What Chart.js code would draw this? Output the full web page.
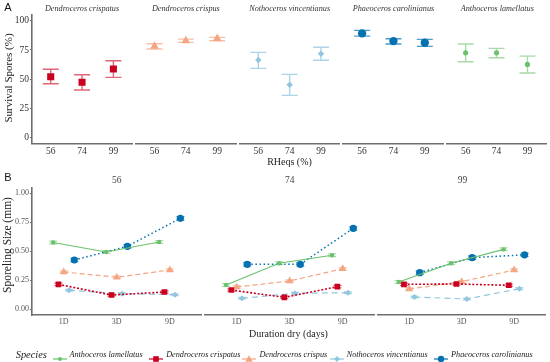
<!DOCTYPE html>
<html>
<head>
<meta charset="utf-8">
<script src="https://cdn.jsdelivr.net/npm/chart.js@4.4.1/dist/chart.umd.min.js"></script>
<style>
body { margin: 0; background: #fff; }
#wrap { position: relative; width: 550px; height: 362px; overflow: hidden; font-family: "Liberation Serif", "DejaVu Serif", serif; }
#wrap canvas { position: absolute; left: 0; top: 0; }
.lbl { position: absolute; white-space: nowrap; line-height: 1; }
</style>
</head>
<body>
<div id="wrap"></div>
<script>
//species, in legend order
const speciesNames = ['Anthoceros lamellatus', 'Dendroceros crispatus', 'Dendroceros crispus', 'Nothoceros vincentianus', 'Phaeoceros carolinianus'];

//panel A: survival of spores (%) per RHeq
const rhLevels = ['56', '74', '99'];
const facetOrderA = [1, 2, 3, 4, 0]; //which species goes in which facet
const survMean = [[72.6, 72.6, 62.7], [52.1, 47.4, 58.7], [78.2, 83.0, 84.8], [66.4, 45.3, 71.8], [89.2, 82.6, 81.2]];
const survLow  = [[65.0, 68.4, 55.3], [46.2, 40.8, 51.6], [75.8, 81.5, 82.9], [59.3, 36.2, 66.2], [86.9, 80.1, 78.1]];
const survHigh = [[80.1, 76.4, 69.8], [58.5, 53.8, 65.8], [80.3, 84.3, 85.8], [73.0, 54.2, 77.3], [91.8, 84.6, 84.1]];
const survTicks = [0, 25, 50, 75, 100];

//panel B: sporeling size (mm), one row per RHeq facet, columns = duration dry
const sizeFacets = ['56', '74', '99'];
const durations = ['1D', '3D', '9D'];
const sizeAnth      = [[0.576, 0.494, 0.580], [0.209, 0.397, 0.466], [0.235, 0.397, 0.517]];
const sizeCrispatus = [[0.215, 0.123, 0.149], [0.166, 0.103, 0.195], [0.215, 0.218, 0.207]];
const sizeCrispus   = [[0.322, 0.276, 0.339], [0.192, 0.244, 0.350], [0.175, 0.238, 0.339]];
const sizeNotho     = [[0.164, 0.135, 0.126], [0.095, 0.138, 0.143], [0.106, 0.089, 0.178]];
const sizePhaeo     = [[0.425, 0.543, 0.784], [0.388, 0.388, 0.698], [0.316, 0.445, 0.470]];
const sizeErr = [0.012, 0.010, 0.010, 0.008, 0.015]; //per species
const sizeTicks = [0, 0.25, 0.5, 0.75, 1];
const sizeTickLabels = ['0.00', '0.25', '0.50', '0.75', '1.00'];

//looks
const colors = ['#6cc26c', '#ca0020', '#f4a582', '#92c5de', '#0571b0'];
const errColors = ['rgba(108,194,108,0.6)', 'rgba(202,0,32,0.6)', 'rgba(244,165,130,0.7)', 'rgba(146,197,222,0.75)', 'rgba(5,113,176,0.7)'];
const shapes = ['circle', 'rect', 'triangle', 'rectRot', 'circle'];
const radiusA = [2.6, 5, 5, 3.2, 4.2];
const radiusB = [2.2, 4, 4.4, 3, 3.6];
const dashes = [[], [2, 1.8], [5, 3], [6, 4], [1.5, 2.6]];
const lineW = [1.2, 1.6, 1.2, 1.2, 1.5];
const dodge = [-0.2, -0.1, 0, 0.1, 0.2];
const AXIS = '#6e6e6e';

const W = 550, H = 362;
const wrap = document.getElementById('wrap');

var addCanvas = function() {
	const c = document.createElement('canvas');
	c.width = W; c.height = H;
	c.style.width = W + 'px'; c.style.height = H + 'px';
	wrap.appendChild(c);
	return c;
}

var addLabel = function(text, x, y, css, rotate) {
	const d = document.createElement('div');
	d.className = 'lbl';
	d.textContent = text;
	d.style.left = x + 'px';
	d.style.top = y + 'px';
	d.style.transform = 'translate(-50%,-50%)' + (rotate ? ' rotate(-90deg)' : '');
	Object.assign(d.style, css || {});
	wrap.appendChild(d);
	return d;
}

//draws error bars from ds.lo / ds.hi through the chart scales
const errBars = {
	id: 'errBars',
	beforeDatasetsDraw(chart) {
		const ctx = chart.ctx, x = chart.scales.x, y = chart.scales.y;
		chart.data.datasets.forEach(ds => {
			if (!ds.lo) return;
			ctx.save();
			ctx.strokeStyle = ds.errColor;
			ctx.lineWidth = ds.errWidth;
			ds.data.forEach((p, i) => {
				const px = x.getPixelForValue(p.x);
				const y1 = y.getPixelForValue(ds.lo[i]);
				const y2 = y.getPixelForValue(ds.hi[i]);
				const hw = ds.capHalf;
				ctx.beginPath();
				ctx.moveTo(px, y1); ctx.lineTo(px, y2);
				ctx.moveTo(px - hw, y1); ctx.lineTo(px + hw, y1);
				ctx.moveTo(px - hw, y2); ctx.lineTo(px + hw, y2);
				ctx.stroke();
			});
			ctx.restore();
		});
	}
};

//builds one facet: plot area box given in page pixels
var makeFacet = function(box, datasets, xLabels, yTicks, yLabels, showY, fontX, fontY, colX, padX) {
	new Chart(addCanvas(), {
		type: 'line',
		data: { datasets: datasets },
		options: {
			responsive: false,
			animation: false,
			events: [],
			layout: { padding: { left: box.left - 20, right: W - box.right, top: box.top, bottom: H - box.bottom - 16 } },
			plugins: { legend: { display: false }, tooltip: { enabled: false } },
			scales: {
				x: {
					type: 'linear', min: -0.6, max: 2.6,
					afterBuildTicks: sc => { sc.ticks = [0, 1, 2].map(v => ({ value: v })); },
					afterFit: sc => { sc.height = 16; },
					ticks: { callback: v => xLabels[v], font: fontX, color: colX, padding: padX, maxRotation: 0 },
					grid: { display: false, drawTicks: false },
					border: { display: true, color: AXIS, width: 1.6 }
				},
				y: {
					display: true, min: box.yMin, max: box.yMax,
					afterBuildTicks: sc => { sc.ticks = yTicks.map(v => ({ value: v })); },
					afterFit: sc => { sc.width = 20; },
					ticks: { display: showY, callback: (v, i) => yLabels[i], font: fontY, color: colX, padding: 1 },
					grid: { display: showY, color: 'transparent', tickColor: AXIS, tickLength: 2, drawTicks: showY },
					border: { display: showY, color: AXIS, width: 1.6 }
				}
			}
		},
		plugins: [errBars]
	});
}

//----- panel A -----
const boxA = { left: 31.9, w: 100.3, step: 103.8, top: 14.9, bottom: 143.6 };
facetOrderA.forEach((s, k) => {
	const left = boxA.left + k * boxA.step;
	const ds = [{
		data: survMean[s].map((v, i) => ({ x: i, y: v })),
		lo: survLow[s], hi: survHigh[s],
		errColor: errColors[s], errWidth: 1.4, capHalf: 8,
		showLine: false,
		pointStyle: shapes[s], pointRadius: radiusA[s],
		pointBackgroundColor: colors[s], pointBorderWidth: 0, borderColor: colors[s]
	}];
	makeFacet({ left: left, right: left + boxA.w, top: boxA.top, bottom: boxA.bottom, yMin: -5, yMax: 105 },
		ds, rhLevels, survTicks, survTicks.map(String), k === 0,
		{ family: 'Liberation Serif', size: 9.5 }, { family: 'Liberation Serif', size: 9.5 }, '#333', 2);
	addLabel(speciesNames[s], left + boxA.w / 2, 9, { fontSize: '8.2px', fontStyle: 'italic', color: '#333' });
});

//----- panel B -----
const sizeBySpecies = [sizeAnth, sizeCrispatus, sizeCrispus, sizeNotho, sizePhaeo];
const boxB = { left: 31.9, w: 169.7, step: 172.9, top: 187.5, bottom: 315.1 };
sizeFacets.forEach((f, k) => {
	const left = boxB.left + k * boxB.step;
	const ds = speciesNames.map((n, s) => {
		const vals = sizeBySpecies[s][k];
		return {
			data: vals.map((v, i) => ({ x: i + dodge[s], y: v })),
			lo: vals.map(v => v - sizeErr[s]), hi: vals.map(v => v + sizeErr[s]),
			errColor: errColors[s], errWidth: 1.2, capHalf: 4,
			borderColor: colors[s], borderWidth: lineW[s], borderDash: dashes[s], tension: 0,
			pointStyle: shapes[s], pointRadius: radiusB[s],
			pointBackgroundColor: colors[s], pointBorderWidth: 0
		};
	});
	makeFacet({ left: left, right: left + boxB.w, top: boxB.top, bottom: boxB.bottom, yMin: -0.05, yMax: 1.05 },
		ds, durations, sizeTicks, sizeTickLabels, k === 0,
		{ family: 'Liberation Serif', size: 8 }, { family: 'Liberation Serif', size: 8 }, '#555', 2.5);
	addLabel(f, left + boxB.w / 2, 181, { fontSize: '9.5px', color: '#444' });
});

//titles
addLabel('A', 8, 7, { fontFamily: 'Liberation Sans', fontSize: '11px', color: '#111' });
addLabel('B', 8, 177, { fontFamily: 'Liberation Sans', fontSize: '11px', color: '#111' });
addLabel('Survival Spores (%)', 8, 78, { fontSize: '11px', color: '#222' }, true);
addLabel('RHeqs (%)', 289.5, 162, { fontSize: '10px', color: '#222' });
addLabel('Sporeling Size (mm)', 8, 245, { fontSize: '11.5px', color: '#222' }, true);
addLabel('Duration dry (days)', 288.5, 334, { fontSize: '10px', color: '#222' });

//legend
addLabel('Species', 31.3, 355, { fontSize: '10.4px', fontStyle: 'italic', color: '#222' });
const legendKeyX = [59.5, 156.2, 249.4, 336.7, 441.1];
const svgShape = function(s) {
	const c = colors[s];
	if (s === 0) return '<circle cx="7" cy="5" r="2" fill="' + c + '"/>';
	if (s === 1) return '<rect x="4.2" y="2.2" width="5.6" height="5.6" fill="' + c + '"/>';
	if (s === 2) return '<polygon points="7,1.2 10.8,7.8 3.2,7.8" fill="' + c + '"/>';
	if (s === 3) return '<polygon points="7,2 10,5 7,8 4,5" fill="' + c + '"/>';
	return '<circle cx="7" cy="5" r="3.2" fill="' + c + '"/>';
}
speciesNames.forEach((n, s) => {
	const k = document.createElement('div');
	k.style.position = 'absolute';
	k.style.left = (legendKeyX[s] - 7) + 'px';
	k.style.top = (355 - 5) + 'px';
	k.innerHTML = '<svg width="14" height="10"><line x1="0" y1="5" x2="14" y2="5" stroke="' + colors[s] + '" stroke-width="1.2"/>' + svgShape(s) + '</svg>';
	wrap.appendChild(k);
	const t = addLabel(n, legendKeyX[s] + 10, 355, { fontSize: '8.2px', fontStyle: 'italic', color: '#222' });
	t.style.transform = 'translate(0,-50%)';
});
</script>
</body>
</html>
